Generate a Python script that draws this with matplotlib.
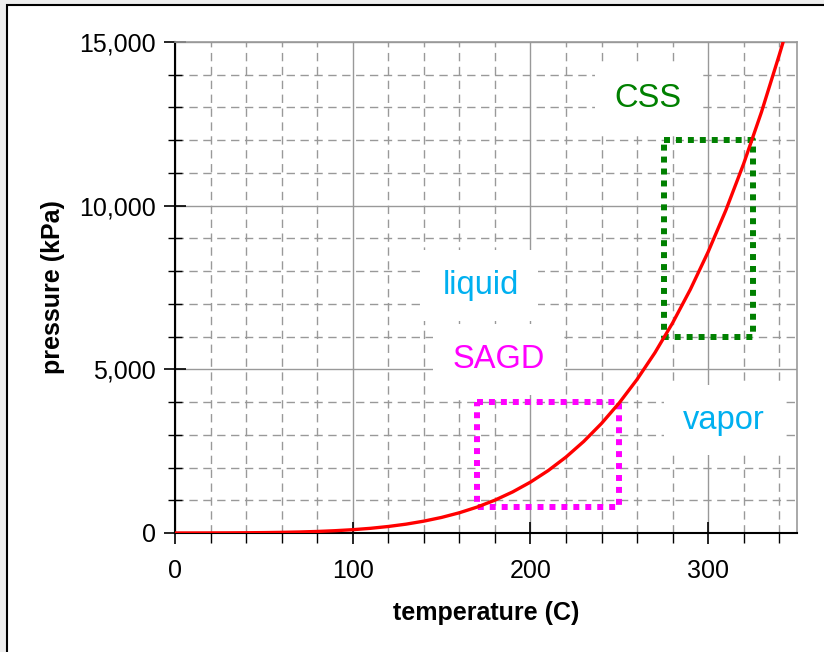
"""Water saturation curve with SAGD / CSS operating windows."""
import matplotlib
matplotlib.use("Agg")
import matplotlib.pyplot as plt
from matplotlib.patches import Rectangle
from matplotlib.ticker import MultipleLocator, StrMethodFormatter

plt.rcParams["font.family"] = ["Liberation Sans", "DejaVu Sans"]

# saturation pressure of water (kPa) vs temperature (C)
temp_c = [0, 10, 20, 30, 40, 50, 60, 70, 80, 90, 100, 110, 120, 130, 140,
          150, 160, 170, 180, 190, 200, 210, 220, 230, 240, 250, 260, 270,
          280, 290, 300, 310, 320, 330, 340, 342.2]
press_kpa = [0.6, 1.2, 2.3, 4.2, 7.4, 12.4, 20, 31, 47, 70, 101, 143, 199,
             270, 362, 476, 618, 792, 1003, 1255, 1554, 1907, 2319, 2797,
             3347, 3976, 4692, 5503, 6417, 7442, 8588, 9865, 11284, 12858,
             14601, 15000]

# operating windows: (T min, T max, P min, P max)
sagd_box = (170, 250, 800, 4000)
css_box = (275, 325, 6000, 12000)

# region labels: text, T, P (baseline), colour
labels = [
    ("CSS", 266, 13010, "#008000"),
    ("liquid", 172, 7300, "#00b0f0"),
    ("SAGD", 182, 5040, "#ff00ff"),
    ("vapor", 309, 3180, "#00b0f0"),
]

fig = plt.figure(figsize=(8.24, 6.52), dpi=100)
fig.patch.set_facecolor("#eeeeee")
fig.add_artist(Rectangle((7 / 824, -0.1), 1.1, 1.1 - 5 / 652,
                         transform=fig.transFigure, fc="white", ec="black",
                         lw=1.5, zorder=-5))
ax = fig.add_axes([175 / 824, 1 - 533 / 652, 622 / 824, 491 / 652])
ax.set_facecolor("none")

ax.plot(temp_c, press_kpa, color="#ff0000", lw=2.4, zorder=5, clip_on=True)


def window(box, color):
    t0, t1, p0, p1 = box
    ax.plot([t0, t1, t1, t0, t0], [p1, p1, p0, p0, p1], color=color,
            lw=4.3, ls=(0, (1, 1)), dash_capstyle="butt", zorder=4)


window(sagd_box, "#ff00ff")
window(css_box, "#008000")

for text, t, p, col in labels:
    ax.text(t, p, text, color=col, fontsize=23.5, ha="center", va="baseline",
            zorder=3,
            bbox=dict(boxstyle="square,pad=0.6", fc="white", ec="none"))

ax.set_xlim(0, 350)
ax.set_ylim(0, 15000)
ax.xaxis.set_major_locator(MultipleLocator(100))
ax.xaxis.set_minor_locator(MultipleLocator(20))
ax.yaxis.set_major_locator(MultipleLocator(5000))
ax.yaxis.set_minor_locator(MultipleLocator(1000))
ax.yaxis.set_major_formatter(StrMethodFormatter("{x:,.0f}"))

ax.set_axisbelow(True)
ax.grid(which="major", color="#999999", lw=1.0, ls="-")
ax.grid(which="minor", color="#999999", lw=1.0, ls=(0, (6, 4)))

ax.tick_params(axis="x", which="major", direction="inout", length=16,
               width=1.2, pad=11, labelsize=18)
ax.tick_params(axis="x", which="minor", direction="out", length=7, width=1)
ax.tick_params(axis="y", which="major", direction="inout", length=16,
               width=1.2, pad=6, labelsize=18)
ax.tick_params(axis="y", which="minor", direction="inout", length=10, width=1)

for side in ("left", "bottom"):
    ax.spines[side].set_color("black")
    ax.spines[side].set_linewidth(1.5)
for side in ("top", "right"):
    ax.spines[side].set_color("#999999")
    ax.spines[side].set_linewidth(1.2)

ax.set_xlabel("temperature (C)", fontsize=18, fontweight="bold", labelpad=13)
ax.set_ylabel("pressure (kPa)", fontsize=18, fontweight="bold", labelpad=10)

fig.savefig("out.png", dpi=100, facecolor=fig.get_facecolor())
